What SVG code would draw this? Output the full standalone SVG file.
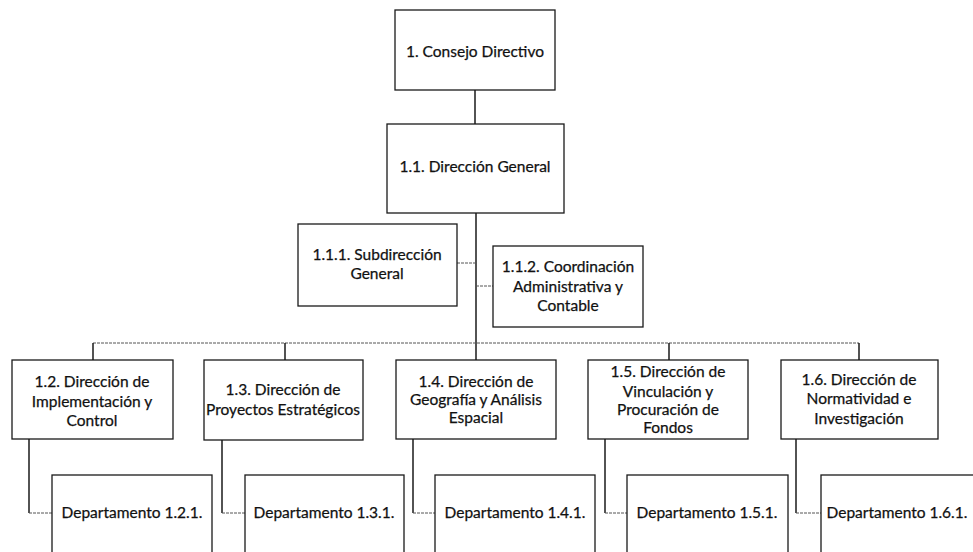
<svg xmlns="http://www.w3.org/2000/svg" width="973" height="552" viewBox="0 0 973 552">
<style>
.box{fill:#fff;stroke:#1a1a1a;stroke-width:1.3}
.ln{fill:none;stroke:#1a1a1a;stroke-width:1.5}
.dl{fill:none;stroke:#555;stroke-width:1;stroke-dasharray:3 1}
text{font-family:Lato,"Open Sans","Liberation Sans",sans-serif;font-size:15.5px;fill:#111;text-anchor:middle;stroke:#111;stroke-width:0.25}
</style>
<rect width="973" height="552" fill="#fff"/>
<g id="connectors">
<line class="ln" x1="475" y1="90" x2="475" y2="124"/>
<line class="ln" x1="476" y1="213" x2="476" y2="360"/>
<line class="dl" x1="457" y1="263" x2="476" y2="263"/>
<line class="dl" x1="476" y1="286" x2="493" y2="286"/>
<line class="dl" x1="93" y1="343" x2="859" y2="343"/>
<line class="ln" x1="93" y1="343" x2="93" y2="360"/>
<line class="ln" x1="285" y1="343" x2="285" y2="360"/>
<line class="ln" x1="669" y1="343" x2="669" y2="360"/>
<line class="ln" x1="859" y1="343" x2="859" y2="360"/>
<polyline class="ln" points="29,439 29,513"/><line class="dl" x1="29" y1="513" x2="52" y2="513"/>
<polyline class="ln" points="222,440 222,513"/><line class="dl" x1="222" y1="513" x2="245" y2="513"/>
<polyline class="ln" points="413,439 413,513"/><line class="dl" x1="413" y1="513" x2="435" y2="513"/>
<polyline class="ln" points="605,439 605,513"/><line class="dl" x1="605" y1="513" x2="627" y2="513"/>
<polyline class="ln" points="796,439 796,513"/><line class="dl" x1="796" y1="513" x2="821" y2="513"/>
</g>
<g id="n1"><rect class="box" x="395" y="10" width="160" height="80"/><text x="475" y="57">1. Consejo Directivo</text></g>
<g id="n11"><rect class="box" x="387" y="124" width="177" height="89"/><text x="475" y="172">1.1. Dirección General</text></g>
<g id="n111"><rect class="box" x="298" y="224" width="159" height="82"/><text x="377" y="260">1.1.1. Subdirección</text><text x="377" y="279">General</text></g>
<g id="n112"><rect class="box" x="493" y="246" width="150" height="81"/><text x="568" y="272">1.1.2. Coordinación</text><text x="568" y="292">Administrativa y</text><text x="568" y="311">Contable</text></g>
<g id="n12"><rect class="box" x="12" y="360" width="161" height="79"/><text x="92" y="387">1.2. Dirección de</text><text x="92" y="407">Implementación y</text><text x="92" y="426">Control</text></g>
<g id="n13"><rect class="box" x="204" y="360" width="159" height="80"/><text x="283" y="395">1.3. Dirección de</text><text x="283" y="415">Proyectos Estratégicos</text></g>
<g id="n14"><rect class="box" x="396" y="360" width="160" height="79"/><text x="476" y="387">1.4. Dirección de</text><text x="476" y="405">Geografía y Análisis</text><text x="476" y="423">Espacial</text></g>
<g id="n15"><rect class="box" x="588" y="360" width="160" height="79"/><text x="668" y="377">1.5. Dirección de</text><text x="668" y="397">Vinculación y</text><text x="668" y="415">Procuración de</text><text x="668" y="433">Fondos</text></g>
<g id="n16"><rect class="box" x="781" y="360" width="157" height="79"/><text x="859" y="385">1.6. Dirección de</text><text x="859" y="404">Normatividad e</text><text x="859" y="424">Investigación</text></g>
<g id="d121"><rect class="box" x="52" y="475" width="160" height="90"/><text x="132" y="518">Departamento 1.2.1.</text></g>
<g id="d131"><rect class="box" x="245" y="475" width="159" height="90"/><text x="324" y="518">Departamento 1.3.1.</text></g>
<g id="d141"><rect class="box" x="435" y="475" width="160" height="90"/><text x="515" y="518">Departamento 1.4.1.</text></g>
<g id="d151"><rect class="box" x="627" y="475" width="161" height="90"/><text x="707" y="518">Departamento 1.5.1.</text></g>
<g id="d161"><rect class="box" x="821" y="475" width="160" height="90"/><text x="897" y="518">Departamento 1.6.1.</text></g>
</svg>
